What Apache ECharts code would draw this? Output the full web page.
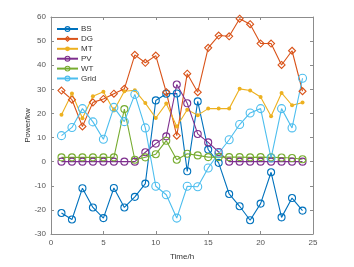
<!DOCTYPE html>
<html>
<head>
<meta charset="utf-8">
<script src="https://cdn.jsdelivr.net/npm/echarts@6/dist/echarts.min.js"></script>
<style>
  html, body { margin: 0; padding: 0; background: #fff; }
  #main { width: 354px; height: 267px; }
</style>
</head>
<body>
<div id="main"></div>
<script>
var hours = [1, 2, 3, 4, 5, 6, 7, 8, 9, 10, 11, 12, 13, 14, 15, 16, 17, 18, 19, 20, 21, 22, 23, 24];
var bs = [-21.3, -24, -11, -19, -23.4, -10.9, -19, -14.6, -9.1, 25.4, 28.2, 28.3, -4, 25, 5, -0.5, -13.4, -18.5, -24.3, -17.4, -4.4, -23.1, -15.1, -20.3];
var dg = [29.5, 25.7, 14.6, 24.6, 26, 28.2, 30.2, 44.3, 41, 44, 28.8, 10.8, 36.5, 28.8, 47.2, 52.3, 52, 59.3, 57, 49, 49, 40.1, 46, 29.2];
var mt = [19.5, 28.3, 18, 27.1, 29, 21.2, 29.2, 29.6, 24.3, 18.1, 24.1, 14.6, 21.5, 19.3, 22, 22, 22, 30.2, 29.5, 26.8, 18.8, 28.5, 23.4, 24.5];
var pv = [0, 0, 0, 0, 0, 0, 0, 0, 3.9, 7.5, 10.5, 32, 24.2, 11.5, 8, 4, 0, 0, 0, 0, 0, 0, 0, 0];
var wt = [1.8, 1.8, 1.8, 1.8, 1.8, 1.8, 21.8, 0.8, 1.8, 3.1, 8.7, 0.8, 3.3, 2.6, 1.9, 1.9, 1.9, 1.9, 1.8, 1.9, 1.8, 1.7, 1.5, 1];
var grid = [10.8, 14.2, 22, 16.5, 9.3, 22.5, 16.6, 27.9, 14, -10.2, -13.7, -23.4, -10.2, -10.4, -2.6, 3.5, 9.1, 15.4, 20.2, 22, 1.5, 22, 14, 34.6];

var names = ["BS", "DG", "MT", "PV", "WT", "Grid"];
var colors = ["#0072BD", "#D95319", "#EDB120", "#7E2F8E", "#77AC30", "#4DBEEE"];
var values = [bs, dg, mt, pv, wt, grid];
var symbols = ["circle", "diamond", "circle", "circle", "circle", "circle"];
var sizes = [7, 7, 4, 7, 7, 8];

function pairs(arr) {
  return arr.map(function (v, i) { return [hours[i], v]; });
}

function markerStyle(i) {
  if (i === 2) return { color: colors[i], borderColor: colors[i], borderWidth: 0 };
  return { color: "rgba(255,255,255,0)", borderColor: colors[i], borderWidth: 1.1 };
}

var series = names.map(function (n, i) {
  return {
    name: n,
    type: "line",
    data: pairs(values[i]),
    symbol: symbols[i],
    symbolSize: sizes[i],
    showAllSymbol: true,
    lineStyle: { color: colors[i], width: 1.1 },
    itemStyle: markerStyle(i),
    emphasis: { disabled: true },
    animation: false
  };
});

var legendData = names.map(function (n, i) {
  return { name: n, itemStyle: markerStyle(i) };
});

var axisGray = "#8c8c8c";
var labelGray = "#555";

var myChart = echarts.init(document.getElementById("main"));
myChart.setOption({
  animation: false,
  textStyle: { fontFamily: "Liberation Sans, Arial, sans-serif" },
  grid: { left: 51, right: 41, top: 17, bottom: 33 },
  legend: {
    orient: "vertical",
    left: 56,
    top: 25,
    padding: 0,
    itemWidth: 21,
    itemHeight: 6,
    itemGap: 1.9,
    textStyle: { fontSize: 8, lineHeight: 8, color: "#333", padding: [0, 0, 0, -2] },
    data: legendData
  },
  xAxis: [
    {
      type: "value",
      min: 0,
      max: 25,
      interval: 5,
      name: "Time/h",
      nameLocation: "middle",
      nameGap: 19,
      nameMoveOverlap: false,
      nameTextStyle: { fontSize: 8, color: "#333" },
      axisLine: { onZero: false, lineStyle: { color: axisGray, width: 1 } },
      axisTick: { inside: true, length: 3, lineStyle: { color: axisGray } },
      axisLabel: { fontSize: 8, color: labelGray, margin: 5 },
      splitLine: { show: false }
    },
    {
      type: "value",
      position: "top",
      min: 0,
      max: 25,
      interval: 5,
      axisLine: { onZero: false, lineStyle: { color: axisGray, width: 1 } },
      axisTick: { inside: true, length: 3, lineStyle: { color: axisGray } },
      axisLabel: { show: false },
      splitLine: { show: false }
    }
  ],
  yAxis: [
    {
      type: "value",
      min: -30,
      max: 60,
      interval: 10,
      name: "Power/kw",
      nameLocation: "middle",
      nameGap: 19,
      nameMoveOverlap: false,
      nameTextStyle: { fontSize: 8, color: "#333" },
      axisLine: { show: true, onZero: false, lineStyle: { color: axisGray, width: 1 } },
      axisTick: { show: true, inside: true, length: 3, lineStyle: { color: axisGray } },
      axisLabel: { fontSize: 8, color: labelGray, margin: 5 },
      splitLine: { show: false }
    },
    {
      type: "value",
      position: "right",
      min: -30,
      max: 60,
      interval: 10,
      axisLine: { show: true, onZero: false, lineStyle: { color: axisGray, width: 1 } },
      axisTick: { show: true, inside: true, length: 3, lineStyle: { color: axisGray } },
      axisLabel: { show: false },
      splitLine: { show: false }
    }
  ],
  series: series
});
</script>
</body>
</html>
